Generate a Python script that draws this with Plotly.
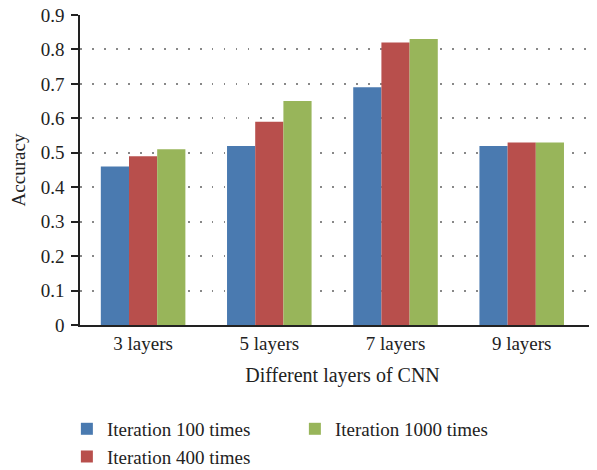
import plotly.graph_objects as go

categories = ["3 layers", "5 layers", "7 layers", "9 layers"]
series_names = ["Iteration 100 times", "Iteration 400 times", "Iteration 1000 times"]
iter100 = [0.46, 0.52, 0.69, 0.52]
iter400 = [0.49, 0.59, 0.82, 0.53]
iter1000 = [0.51, 0.65, 0.83, 0.53]
colors = ["#4a7ab0", "#b84f4c", "#98b55a"]
legend_ranks = [1, 3, 2]
ytick_vals = [0, 0.1, 0.2, 0.3, 0.4, 0.5, 0.6, 0.7, 0.8, 0.9]
ytick_text = ["0", "0.1", "0.2", "0.3", "0.4", "0.5", "0.6", "0.7", "0.8", "0.9"]

FONT = "Liberation Serif"

fig = go.Figure()
for name, vals, col, rk in zip(series_names, [iter100, iter400, iter1000], colors, legend_ranks):
    fig.add_trace(go.Bar(x=list(range(len(categories))), y=vals, name=name,
                         marker=dict(color=col, line=dict(width=0)), legendrank=rk))

fig.update_layout(
    width=597, height=470,
    margin=dict(l=72, r=0, t=7, b=153, autoexpand=False),
    paper_bgcolor="white", plot_bgcolor="white",
    font=dict(family=FONT, size=19, color="#222"),
    barmode="group", bargap=0.33, bargroupgap=0,
    showlegend=True,
    legend=dict(orientation="h", x=-0.025, xanchor="left", y=-0.274, yanchor="top",
                entrywidth=183, entrywidthmode="pixels", tracegroupgap=0,
                font=dict(family=FONT, size=19), itemclick=False),
    xaxis=dict(range=[-0.5, 3.66], tickmode="array", tickvals=list(range(len(categories))),
               ticktext=categories, showline=True, linecolor="#222", linewidth=1.5,
               ticks="", showgrid=False, zeroline=False,
               title=dict(text="Different layers of CNN", standoff=15, font=dict(size=20))),
    yaxis=dict(range=[0, 0.9], tickmode="array", tickvals=ytick_vals, ticktext=ytick_text,
               showline=True, linecolor="#222", linewidth=1.5, ticks="outside", ticklen=7,
               tickwidth=1.5, tickcolor="#222", showgrid=True, gridcolor="#888",
               griddash="1.5px,10.5px", gridwidth=1.5, zeroline=False, ticklabelstandoff=3,
               ticklabeloverflow="allow",
               title=dict(text="Accuracy", standoff=12, font=dict(size=19))),
)
fig.write_html("out.html")
